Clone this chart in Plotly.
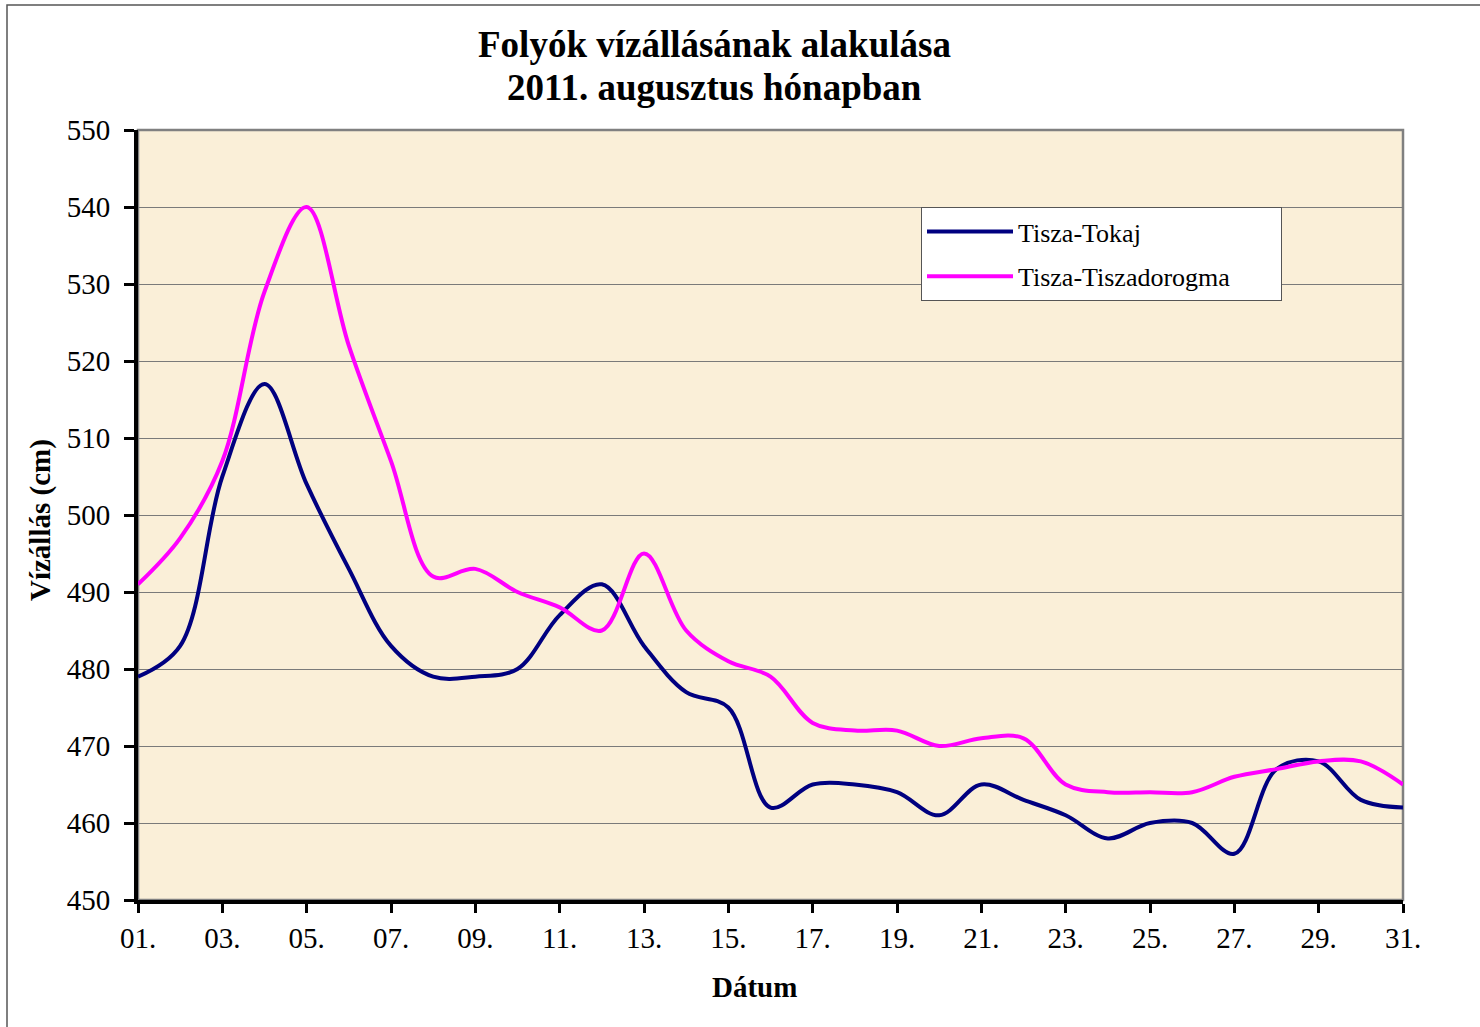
import plotly.graph_objects as go

days = list(range(1, 32))
tokaj = [479, 483, 505, 517, 504, 493, 483, 479, 479, 480, 487, 491, 483, 477, 475, 462,
         465, 465, 464, 461, 465, 463, 461, 458, 460, 460, 456, 467, 468, 463, 462]
tiszadorogma = [491, 497, 507, 529, 540, 522, 507, 492, 493, 490, 488, 485, 495, 485, 481, 479,
                473, 472, 472, 470, 471, 471, 465, 464, 464, 464, 466, 467, 468, 468, 465]
series_names = ["Tisza-Tokaj", "Tisza-Tiszadorogma"]
x_tickvals = list(range(1, 32, 2))
x_ticktext = [f"{d:02d}." for d in x_tickvals]
y_tickvals = list(range(450, 551, 10))

FONT = "Liberation Serif, Times New Roman, serif"
PAD = "\u00a0" * 7  # right padding inside the legend box

fig = go.Figure()
fig.add_trace(go.Scatter(x=days, y=tokaj, mode="lines", name=series_names[0],
                         line=dict(color="#000080", width=4, shape="spline", smoothing=1.0),
                         legendgroup="a"))
fig.add_trace(go.Scatter(x=days, y=tiszadorogma, mode="lines", name=series_names[1] + PAD,
                         line=dict(color="#FF00FF", width=4, shape="spline", smoothing=1.0),
                         legendgroup="b"))

fig.update_layout(
    width=1480, height=1027,
    margin=dict(l=138, r=77, t=130, b=127),
    paper_bgcolor="white",
    plot_bgcolor="#FAEFD8",
    font=dict(family=FONT, color="black", size=29),
    showlegend=True,
    legend=dict(x=(921 - 138) / 1265, y=(900 - 207) / 770, xanchor="left", yanchor="top",
                bgcolor="white", bordercolor="#555555", borderwidth=1,
                font=dict(size=26, family=FONT), tracegroupgap=8,
                itemwidth=86),
)

fig.update_xaxes(range=[1, 31], tickvals=x_tickvals, ticktext=x_ticktext,
                 showgrid=False, zeroline=False,
                 showline=True, linecolor="black", linewidth=4,
                 ticks="outside", ticklen=9, tickwidth=3, tickcolor="black",
                 ticklabelstandoff=0, tickfont=dict(size=29))
fig.update_yaxes(range=[450, 550], tickvals=y_tickvals,
                 showgrid=True, gridcolor="#7a7a7a", gridwidth=1.2, zeroline=False,
                 showline=True, linecolor="black", linewidth=4,
                 ticks="outside", ticklen=10, tickwidth=3, tickcolor="black",
                 ticklabelstandoff=8, tickfont=dict(size=29))

# plot area border (top/right gray)
fig.add_shape(type="rect", xref="paper", yref="paper", x0=0, x1=1, y0=0, y1=1,
              line=dict(color="#808080", width=2.5), layer="below")
# outer chart border
fig.add_shape(type="rect", xref="paper", yref="paper",
              x0=(7 - 138) / 1265, x1=1.2, y0=-0.3, y1=1 + (130 - 5) / 770,
              line=dict(color="#555555", width=1.5), layer="below")

title_lines = ["Folyók vízállásának alakulása", "2011. augusztus hónapban"]
title_y_px = [44, 87]
for txt, ypx in zip(title_lines, title_y_px):
    fig.add_annotation(text=f"<b>{txt}</b>",
                       xref="paper", yref="paper", x=(714.5 - 138) / 1265, y=1 + (130 - ypx) / 770,
                       xanchor="center", yanchor="middle", showarrow=False,
                       font=dict(size=37, family=FONT, color="black"))
fig.add_annotation(text="<b>Dátum</b>", xref="paper", yref="paper",
                   x=(754.5 - 138) / 1265, y=(900 - 987) / 770,
                   xanchor="center", yanchor="middle", showarrow=False,
                   font=dict(size=29, family=FONT, color="black"))
fig.add_annotation(text="<b>Vízállás (cm)</b>", xref="paper", yref="paper",
                   x=(40 - 138) / 1265, y=(900 - 520) / 770, textangle=-90,
                   xanchor="center", yanchor="middle", showarrow=False,
                   font=dict(size=29, family=FONT, color="black"))

fig.write_html("out.html", config={"displayModeBar": False},
               post_script="document.body.style.margin='0';")
